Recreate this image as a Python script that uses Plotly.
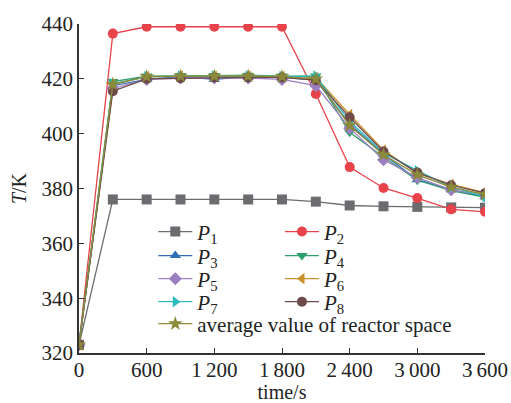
import plotly.graph_objects as go

time_s = [0, 300, 600, 900, 1200, 1500, 1800, 2100, 2400, 2700, 3000, 3300, 3600]

P1 = [323, 376, 376, 376, 376, 376, 376, 375.2, 373.8, 373.5, 373.3, 373.1, 373.0]
P2 = [323, 436.5, 439, 439, 439, 439, 439, 414.5, 387.8, 380.2, 376.5, 372.4, 371.5]
P3 = [323, 417.5, 419.8, 420.8, 419.8, 420.8, 420.5, 419.5, 403.5, 392.5, 383.2, 379.5, 377.0]
P4 = [323, 419.0, 421.0, 421.2, 421.2, 421.3, 421.0, 421.0, 400.5, 391.5, 383.0, 379.2, 376.8]
P5 = [323, 416.5, 419.8, 420.3, 420.3, 420.3, 419.8, 417.5, 402.0, 390.5, 384.0, 379.5, 377.5]
P6 = [323, 418.0, 420.8, 421.0, 421.0, 421.0, 420.8, 420.5, 407.0, 394.0, 385.5, 381.5, 378.5]
P7 = [323, 418.2, 420.8, 421.0, 421.0, 421.0, 420.8, 421.0, 404.5, 393.0, 386.5, 380.5, 377.0]
P8 = [323, 415.5, 420.0, 420.2, 420.5, 420.5, 420.5, 419.5, 406.0, 393.5, 385.8, 381.2, 378.3]
AVG = [323, 418.0, 420.8, 421.0, 421.0, 421.0, 420.8, 420.0, 403.0, 392.3, 385.0, 380.5, 377.8]

names = ["<i>P</i><sub>1</sub>", "<i>P</i><sub>2</sub>", "<i>P</i><sub>3</sub>",
         "<i>P</i><sub>4</sub>", "<i>P</i><sub>5</sub>", "<i>P</i><sub>6</sub>",
         "<i>P</i><sub>7</sub>", "<i>P</i><sub>8</sub>", "average value of reactor space"]
values = [P1, P2, P3, P4, P5, P6, P7, P8, AVG]
colors = ["#6b6c6f", "#e8434a", "#2e6db4", "#2e9e6a", "#9b7fc0",
          "#c8922d", "#2bbcc0", "#6e4a4a", "#8a8a3a"]
symbols = ["square", "circle", "triangle-up", "triangle-down", "diamond",
           "triangle-left", "triangle-right", "circle", "star"]

# legend grid position (column, row) for each entry
leg_col = [0, 1, 0, 1, 0, 1, 0, 1, 0]
leg_row = [0, 0, 1, 1, 2, 2, 3, 3, 4]
col_x = [0.183, 0.495]
row_y = [0.368, 0.295, 0.225, 0.155, 0.088]

x_ticks = [0, 600, 1200, 1800, 2400, 3000, 3600]
x_ticktext = ["0", "600", "1\u2009200", "1\u2009800", "2\u2009400", "3\u2009000", "3\u2009600"]
y_ticks = [320, 340, 360, 380, 400, 420, 440]

fig = go.Figure()
legend_layouts = {}
for i, (name, vals, color, sym) in enumerate(zip(names, values, colors, symbols)):
    key = "legend" if i == 0 else f"legend{i + 1}"
    fig.add_trace(go.Scatter(
        x=time_s, y=vals, name=name, mode="lines+markers",
        line=dict(color=color, width=1.3),
        marker=dict(symbol=sym, size=10 if sym != "star" else 11, color=color),
        legend=key, showlegend=True,
    ))
    legend_layouts[key] = dict(
        x=col_x[leg_col[i]], y=row_y[leg_row[i]], xanchor="left", yanchor="middle",
        bgcolor="rgba(0,0,0,0)", font=dict(size=21), itemwidth=34,
    )

font = "Liberation Serif, Times New Roman, serif"
fig.update_layout(
    width=511, height=403,
    showlegend=True,
    margin=dict(l=79, r=26, t=24, b=50),
    paper_bgcolor="white", plot_bgcolor="white",
    font=dict(family=font, size=21, color="#222"),
    xaxis=dict(range=[0, 3600], tickvals=x_ticks, ticktext=x_ticktext,
               ticks="inside", ticklen=5, tickcolor="#333", ticklabelstandoff=-3,
               showline=True, linecolor="#333", linewidth=1.5,
               showgrid=False, zeroline=False, automargin=False,
               title=dict(text="time/s", font=dict(size=20))),
    yaxis=dict(range=[320, 440], tickvals=y_ticks,
               ticks="inside", ticklen=5, tickcolor="#333",
               showline=True, linecolor="#333", linewidth=1.5,
               showgrid=False, zeroline=False, automargin=False,
               title=dict(text="<i>T</i>/K", font=dict(size=20), standoff=10)),
    **legend_layouts,
)

fig.write_html("out.html")
